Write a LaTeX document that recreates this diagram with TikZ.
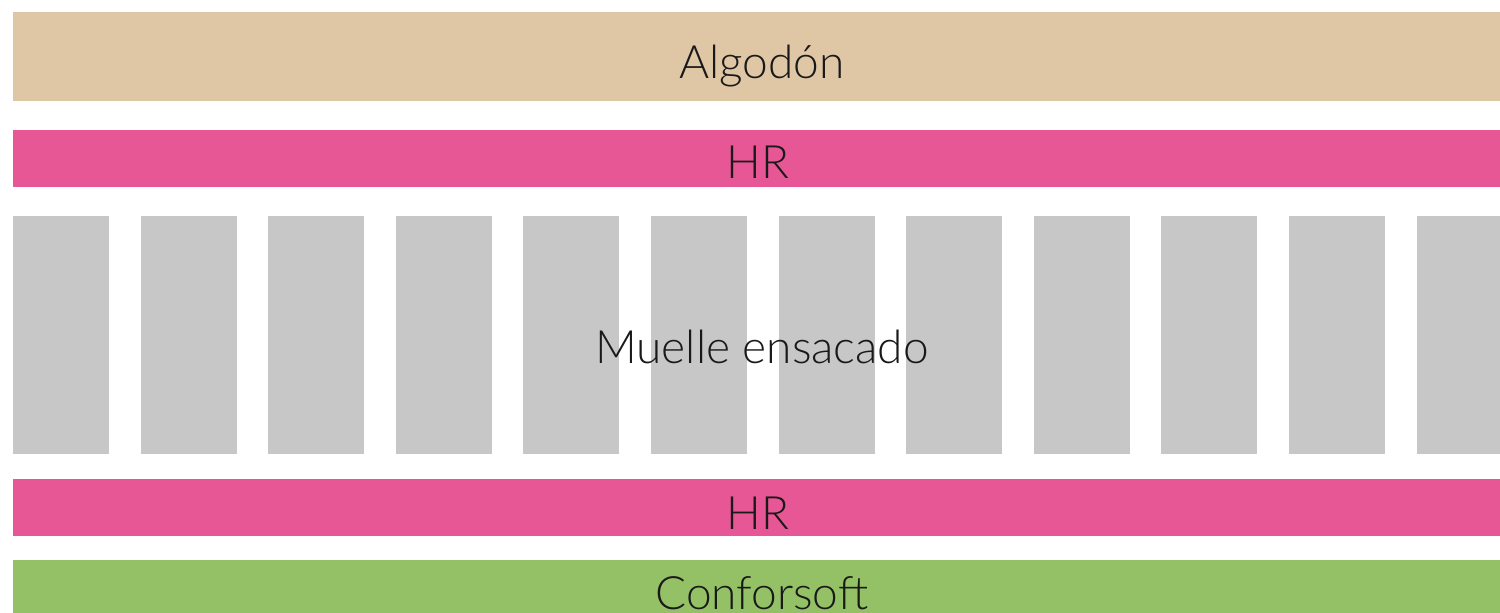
\documentclass[tikz,border=0pt]{standalone}
\usepackage{fontspec}
\setmainfont{Lato}[UprightFont=* Light]
\definecolor{algodon}{HTML}{DFC6A5}
\definecolor{hr}{HTML}{E75695}
\definecolor{muelle}{HTML}{C7C7C7}
\definecolor{confor}{HTML}{95C166}
\begin{document}
\begin{tikzpicture}[x=.5pt,y=-.5pt,font=\fontsize{23}{26}\selectfont,
	capa/.style={anchor=base,text=black!90}]
	\clip (0,0) rectangle (1500,612);
	\fill[white] (0,0) rectangle (1500,612);
	% capas
	\fill[algodon] (13,12) rectangle (1520,101);
	\fill[hr] (13,130) rectangle (1520,187);
	\foreach \i in {0,...,11}
		\fill[muelle] ({13+127.6*\i},216) rectangle ++(96,238);
	\fill[hr] (13,479) rectangle (1520,536);
	\fill[confor] (13,560) rectangle (1520,640);
	% textos
	\node[capa] (algodon) at (762,78) {Algodón};
	\node[capa] (hrsup) at (758,178) {HR};
	\node[capa] (muelle) at (762,363) {Muelle ensacado};
	\node[capa] (hrinf) at (758,529) {HR};
	\node[capa] (confor) at (762,609) {Conforsoft};
\end{tikzpicture}
\end{document}
